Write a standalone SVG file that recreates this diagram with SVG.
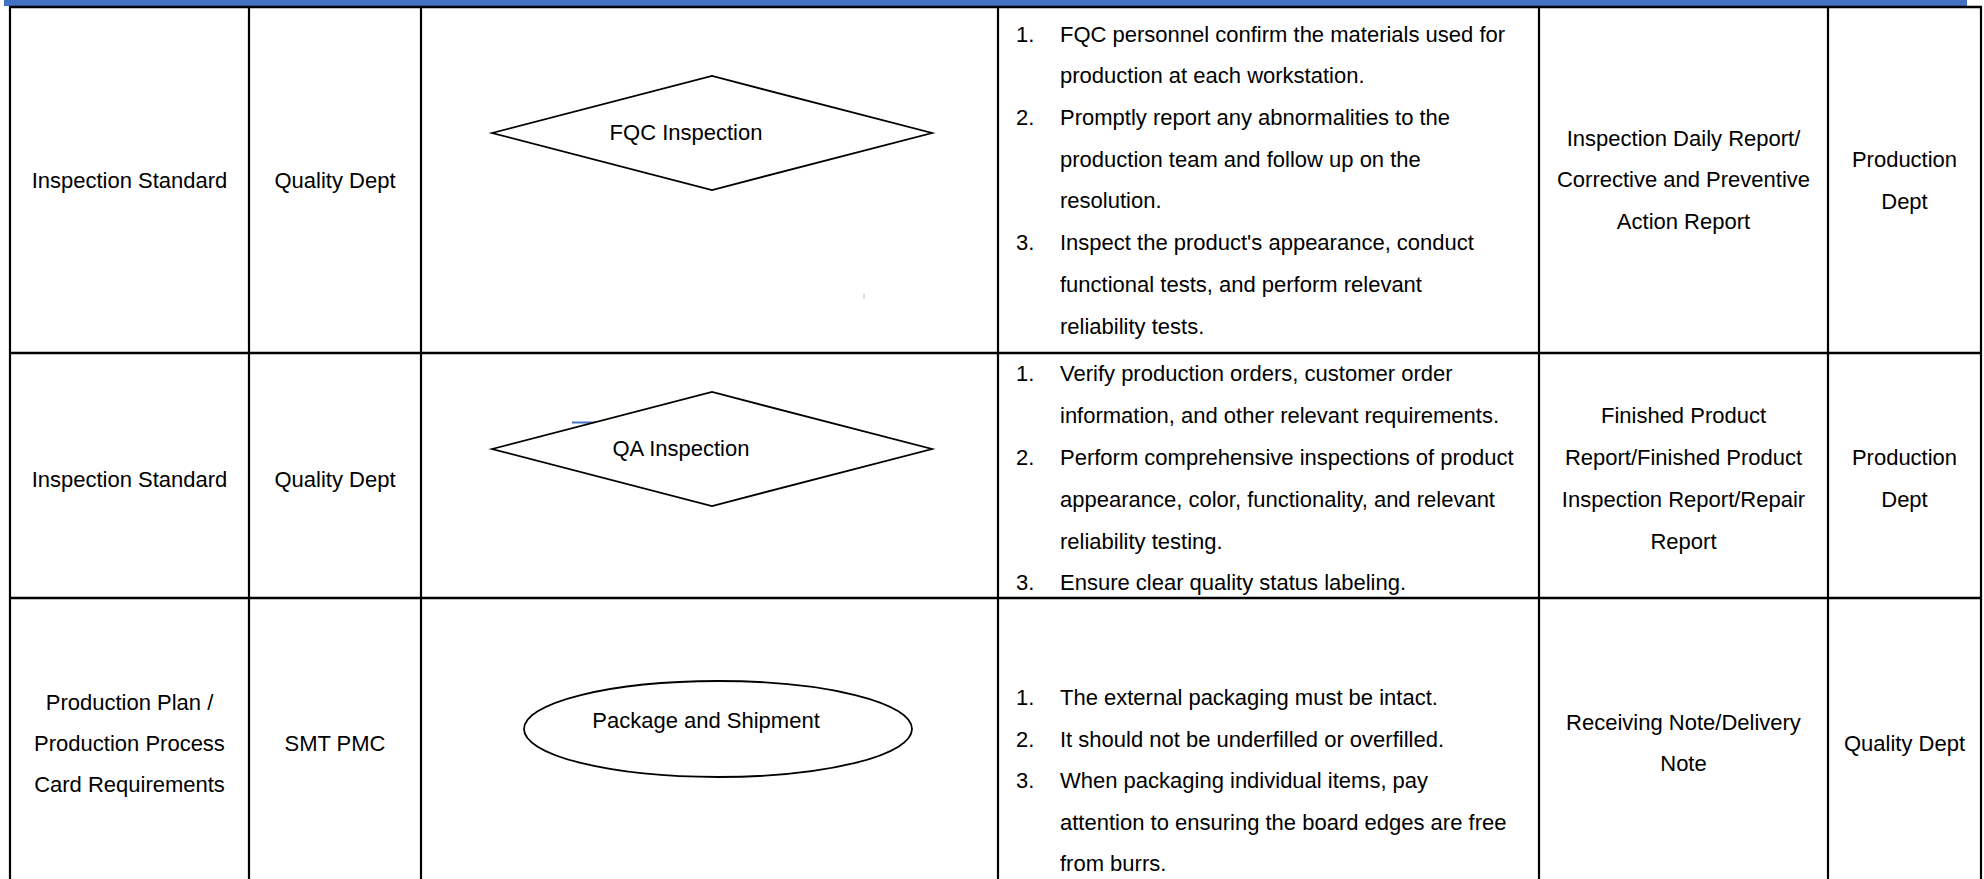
<svg xmlns="http://www.w3.org/2000/svg" width="1984" height="879" viewBox="0 0 1984 879">
<style>
  text { font-family: "Liberation Sans", Arial, sans-serif; font-size: 22px; fill: #000; }
  .c { text-anchor: middle; }
  .grid { stroke: #000; stroke-width: 2.2; fill: none; }
  .hgrid { stroke: #000; stroke-width: 2.6; fill: none; }
  .shape { fill: #fff; stroke: #000; stroke-width: 1.8; }
</style>
<rect x="4" y="0" width="1963" height="6" fill="#4472C4"/>
<g id="table">
  <line class="hgrid" x1="9" y1="7" x2="1982" y2="7"/>
  <line class="hgrid" x1="9" y1="353" x2="1982" y2="353"/>
  <line class="hgrid" x1="9" y1="598" x2="1982" y2="598"/>
  <line class="grid" x1="10" y1="6" x2="10" y2="879"/>
  <line class="grid" x1="249" y1="6" x2="249" y2="879"/>
  <line class="grid" x1="421" y1="6" x2="421" y2="879"/>
  <line class="grid" x1="998" y1="6" x2="998" y2="879"/>
  <line class="grid" x1="1539" y1="6" x2="1539" y2="879"/>
  <line class="grid" x1="1828" y1="6" x2="1828" y2="879"/>
  <line class="grid" x1="1981" y1="6" x2="1981" y2="879"/>
</g>
<g id="connectors">
  <line x1="572" y1="422.5" x2="596" y2="422.5" stroke="#4472C4" stroke-width="2"/>
  <line x1="864" y1="294" x2="864" y2="299" stroke="#a8bcdc" stroke-width="1"/>
</g>
<g id="row1">
  <text class="c" x="129.5" y="187.5">Inspection Standard</text>
  <text class="c" x="335" y="187.5">Quality Dept</text>
  <g id="node-fqc">
    <polygon class="shape" points="492,133 712,76 932,133 712,190"/>
    <text class="c" x="686" y="139.5">FQC Inspection</text>
  </g>
  <text x="1016" y="41.5">1.</text><text x="1060" y="41.5">FQC personnel confirm the materials used for</text>
  <text x="1060" y="83">production at each workstation.</text>
  <text x="1016" y="125">2.</text><text x="1060" y="125">Promptly report any abnormalities to the</text>
  <text x="1060" y="166.5">production team and follow up on the</text>
  <text x="1060" y="208">resolution.</text>
  <text x="1016" y="250">3.</text><text x="1060" y="250">Inspect the product's appearance, conduct</text>
  <text x="1060" y="291.5">functional tests, and perform relevant</text>
  <text x="1060" y="333.5">reliability tests.</text>
  <text class="c" x="1683.5" y="146">Inspection Daily Report/</text>
  <text class="c" x="1683.5" y="187">Corrective and Preventive</text>
  <text class="c" x="1683.5" y="228.5">Action Report</text>
  <text class="c" x="1904.5" y="166.5">Production</text>
  <text class="c" x="1904.5" y="208.5">Dept</text>
</g>
<g id="row2">
  <text class="c" x="129.5" y="486.5">Inspection Standard</text>
  <text class="c" x="335" y="486.5">Quality Dept</text>
  <g id="node-qa">
    <polygon class="shape" points="492,449 712,392 932,449 712,506"/>
    <text class="c" x="681" y="455.5">QA Inspection</text>
  </g>
  <text x="1016" y="381">1.</text><text x="1060" y="381">Verify production orders, customer order</text>
  <text x="1060" y="423">information, and other relevant requirements.</text>
  <text x="1016" y="465">2.</text><text x="1060" y="465">Perform comprehensive inspections of product</text>
  <text x="1060" y="507">appearance, color, functionality, and relevant</text>
  <text x="1060" y="549">reliability testing.</text>
  <text x="1016" y="590">3.</text><text x="1060" y="590">Ensure clear quality status labeling.</text>
  <text class="c" x="1683.5" y="423">Finished Product</text>
  <text class="c" x="1683.5" y="465">Report/Finished Product</text>
  <text class="c" x="1683.5" y="507">Inspection Report/Repair</text>
  <text class="c" x="1683.5" y="549">Report</text>
  <text class="c" x="1904.5" y="465">Production</text>
  <text class="c" x="1904.5" y="507">Dept</text>
</g>
<g id="row3">
  <text class="c" x="129.5" y="709.5">Production Plan /</text>
  <text class="c" x="129.5" y="750.5">Production Process</text>
  <text class="c" x="129.5" y="791.5">Card Requirements</text>
  <text class="c" x="335" y="750.5">SMT PMC</text>
  <g id="node-package">
    <ellipse class="shape" cx="718" cy="729" rx="194" ry="48"/>
    <text class="c" x="706" y="727.5">Package and Shipment</text>
  </g>
  <text x="1016" y="704.5">1.</text><text x="1060" y="704.5">The external packaging must be intact.</text>
  <text x="1016" y="746.5">2.</text><text x="1060" y="746.5">It should not be underfilled or overfilled.</text>
  <text x="1016" y="788">3.</text><text x="1060" y="788">When packaging individual items, pay</text>
  <text x="1060" y="829.5">attention to ensuring the board edges are free</text>
  <text x="1060" y="871">from burrs.</text>
  <text class="c" x="1683.5" y="729.5">Receiving Note/Delivery</text>
  <text class="c" x="1683.5" y="771">Note</text>
  <text class="c" x="1904.5" y="750.5">Quality Dept</text>
</g>
</svg>
